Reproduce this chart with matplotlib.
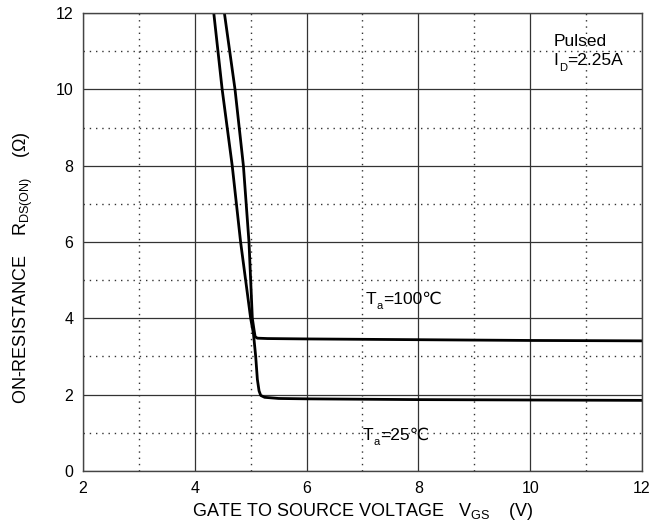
import numpy as np
import matplotlib.pyplot as plt
from matplotlib.ticker import MultipleLocator
from matplotlib.transforms import offset_copy

plt.rcParams['font.family'] = ['Liberation Sans', 'DejaVu Sans']
plt.rcParams['mathtext.fontset'] = 'custom'
plt.rcParams['mathtext.rm'] = 'Liberation Sans'

# Ta = 25 C
vgs_25 = [4.34, 4.49, 4.67, 4.82, 4.91, 5.00, 5.05, 5.09, 5.12, 5.15, 5.18, 5.25, 5.5, 6.0, 8.0, 10.0, 12.0]
r_25 = [12.0, 10.0, 8.0, 6.0, 5.0, 4.0, 3.6, 3.0, 2.4, 2.1, 1.98, 1.93, 1.90, 1.89, 1.87, 1.86, 1.85]

# Ta = 100 C
vgs_100 = [4.53, 4.72, 4.87, 4.97, 5.00, 5.03, 5.06, 5.08, 5.12, 5.3, 6.0, 8.0, 10.0, 12.0]
r_100 = [12.0, 10.0, 8.0, 6.0, 5.0, 4.0, 3.7, 3.52, 3.48, 3.47, 3.46, 3.44, 3.42, 3.41]

fig = plt.figure(figsize=(6.67, 5.27), dpi=100)
ax = fig.add_axes([0.1244, 0.1063, 0.838, 0.869])

ax.plot(vgs_25, r_25, color='black', lw=2.0)
ax.plot(vgs_100, r_100, color='black', lw=2.0)

ax.set_xlim(2, 12)
ax.set_ylim(0, 12)
ax.xaxis.set_major_locator(MultipleLocator(2))
ax.yaxis.set_major_locator(MultipleLocator(2))
ax.xaxis.set_minor_locator(MultipleLocator(1))
ax.yaxis.set_minor_locator(MultipleLocator(1))
ax.grid(which='major', color='#333333', lw=0.9, ls='-')
ax.grid(which='minor', color='#333333', lw=1.0, ls=(0, (1, 3.5)))
ax.tick_params(which='both', length=0, labelsize=11.5, pad=7)
for s in ax.spines.values():
    s.set_color('#444444')
    s.set_linewidth(1.0)


def sub_label(x, y, main, sub, rest, fs=12.5, sfs=8):
    # main letter, small lowered subscript, then the rest on the baseline
    w_main = {'T': 0.611, 'I': 0.278}[main] * fs
    w_sub = {'a': 0.556, 'D': 0.722}[sub] * sfs
    ax.text(x, y, main, fontsize=fs, va='baseline')
    ax.text(x, y, sub, fontsize=sfs, va='baseline',
            transform=offset_copy(ax.transData, fig=fig, x=w_main + 0.3, y=-3.8, units='points'))
    ax.text(x, y, rest, fontsize=fs, va='baseline',
            transform=offset_copy(ax.transData, fig=fig, x=w_main + w_sub + 0.6, y=0, units='points'))


ax.text(10.42, 11.13, 'Pulsed', fontsize=12.5, va='baseline')
sub_label(10.42, 10.63, 'I', 'D', '=2.25A')
sub_label(7.06, 4.37, 'T', 'a', '=100℃')
sub_label(7.0, 0.82, 'T', 'a', '=25℃')

ax.set_xlabel(r'GATE TO SOURCE VOLTAGE   $\mathregular{V_{GS}}$    (V)', fontsize=13, labelpad=4)
ax.set_ylabel(r'ON-RESISTANCE    $\mathregular{R_{DS(ON)}}$    (Ω)', fontsize=13)
ax.yaxis.set_label_coords(-0.085, 0.445)

fig.savefig('out.png', dpi=100)
